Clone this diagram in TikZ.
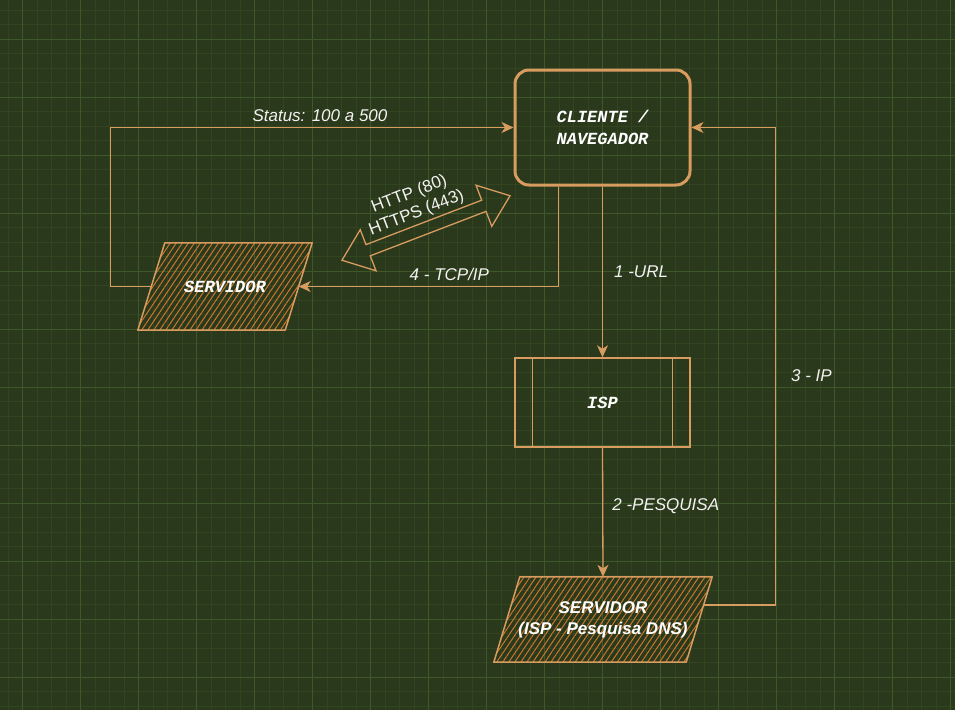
\documentclass[tikz,border=0pt]{standalone}
\usepackage{fontspec}
\setmainfont{Liberation Sans}
\newfontfamily\monofonte{Liberation Mono}
\usetikzlibrary{arrows.meta, backgrounds, patterns.meta}
\definecolor{fundo}{HTML}{2A381B}
\definecolor{gradefina}{HTML}{334420}
\definecolor{gradegrossa}{HTML}{3F5829}
\definecolor{traco}{HTML}{D89C60}
\definecolor{hachura}{HTML}{C9772F}
\definecolor{letra}{HTML}{F2F2F2}

\begin{document}
\begin{tikzpicture}[x=1pt, y=-1pt,
    seta/.style={draw=traco, line width=1.3pt, -{Stealth[length=12pt, width=11pt, inset=3.5pt]}},
    rotulo/.style={text=letra, font=\fontsize{17}{20}\selectfont\itshape, inner sep=1pt},
    caixa/.style={draw=traco, line width=3pt, rounded corners=14pt, minimum width=175pt, minimum height=115pt,
        text=white, align=center, font=\fontsize{17}{22}\selectfont\monofonte\bfseries\itshape},
    processo/.style={draw=traco, line width=1.5pt, minimum width=175pt, minimum height=89pt,
        text=white, font=\fontsize{17}{22}\selectfont\monofonte\bfseries\itshape},
    servtexto/.style={inner sep=0pt, text=white, align=center},
    hachurado/.style={draw=traco, line width=1.5pt, line join=round,
        pattern={Lines[angle=56, distance=5pt, line width=1pt]}, pattern color=hachura}
]
\useasboundingbox (0,0) rectangle (955,710);

% Grade de fundo
\begin{scope}[on background layer]
    \fill[fundo] (0,0) rectangle (955,710);
    \foreach \x in {8,22.5,...,955} \draw[gradefina, line width=0.6pt] (\x,0) -- (\x,710);
    \foreach \y in {10,24.5,...,710} \draw[gradefina, line width=0.6pt] (0,\y) -- (955,\y);
    \foreach \x in {22.5,80.5,...,955} \draw[gradegrossa, line width=1pt] (\x,0) -- (\x,710);
    \foreach \y in {39,97,...,710} \draw[gradegrossa, line width=1pt] (0,\y) -- (955,\y);
\end{scope}

% Blocos
\node[caixa] (cliente) at (602.5,127.5) {CLIENTE /\\NAVEGADOR};
\node[processo] (isp) at (602.5,402.5) {ISP};
\draw[traco, line width=1.3pt] ([xshift=18pt]isp.north west) -- ([xshift=18pt]isp.south west);
\draw[traco, line width=1.3pt] ([xshift=-18pt]isp.north east) -- ([xshift=-18pt]isp.south east);

\node[servtexto, minimum width=147pt, minimum height=87pt,
    font=\fontsize{17}{22}\selectfont\monofonte\bfseries\itshape] (servidor) at (225,286.5) {SERVIDOR};
\node[servtexto, minimum width=192pt, minimum height=85pt,
    font=\fontsize{17}{21}\selectfont\bfseries\itshape] (dns) at (603,619.5) {SERVIDOR\\(ISP - Pesquisa DNS)};

% Paralelogramos hachurados (por baixo do texto)
\begin{scope}[on background layer]
    \path[hachurado] ([xshift=13.5pt]servidor.north west) -- ([xshift=13.5pt]servidor.north east)
        -- ([xshift=-13.5pt]servidor.south east) -- ([xshift=-13.5pt]servidor.south west) -- cycle;
    \path[hachurado] ([xshift=13pt]dns.north west) -- ([xshift=13pt]dns.north east)
        -- ([xshift=-13pt]dns.south east) -- ([xshift=-13pt]dns.south west) -- cycle;
\end{scope}

% Seta dupla HTTP/HTTPS
\begin{scope}[shift={(426,228)}, rotate=21]
    \draw[traco, line width=1.3pt] (-90,0) -- (-62,22) -- (-62,6) -- (62,6) -- (62,22) -- (90,0)
        -- (62,-22) -- (62,-6) -- (-62,-6) -- (-62,-22) -- cycle;
\end{scope}
\node[text=letra, font=\fontsize{17}{20}\selectfont, align=center, rotate=21] (protocolos) at (413,204) {HTTP (80)\\HTTPS (443)};

% Conexoes
\draw[seta] (cliente.south) -- (isp.north) node[rotulo, midway, right=10pt] {1 -URL};
\draw[seta] (isp.south) -- (dns.north) node[rotulo, midway, right=8pt, yshift=6pt] {2 -PESQUISA};
\draw[seta] ([xshift=4.3pt, yshift=14.5pt]dns.east) -- ++(72,0) |- (cliente.east)
    node[rotulo, pos=0.24, right=14pt] {3 - IP};
\draw[seta] ([xshift=-44pt]cliente.south) |- (servidor.east) node[rotulo, pos=0.71, above=4pt] {4 - TCP/IP};
\draw[seta] (servidor.west) -- ++(-41,0) |- (cliente.west) node[rotulo, pos=0.76, above=4pt] {Status: 100 a 500};
\end{tikzpicture}
\end{document}
